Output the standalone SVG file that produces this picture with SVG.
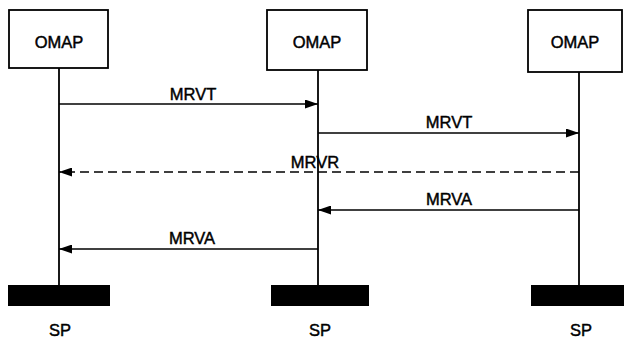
<svg xmlns="http://www.w3.org/2000/svg" width="624" height="341" viewBox="0 0 624 341">
<defs>
<style>
.box{fill:#fff;stroke:#000;stroke-width:1.8}
.life{stroke:#000;stroke-width:1.8;fill:none}
.msg{stroke:#000;stroke-width:1.5;fill:none}
.dash{stroke-dasharray:9 5}
.bar{fill:#000}
text{font-family:"Liberation Sans",Arial,sans-serif;font-size:16.5px;fill:#000;stroke:#000;stroke-width:0.45;text-anchor:middle}
</style>
<marker id="ah" viewBox="0 0 13 9" refX="13" refY="4.5" markerWidth="13" markerHeight="9" markerUnits="userSpaceOnUse" orient="auto">
<path d="M0,0 L13,4.5 L0,9 Z" fill="#000"/>
</marker>
</defs>
<g id="node-omap1">
<rect class="box" x="9" y="10" width="99" height="58"/>
<text x="59" y="48">OMAP</text>
</g>
<g id="node-omap2">
<rect class="box" x="267" y="10" width="100" height="60"/>
<text x="317" y="48">OMAP</text>
</g>
<g id="node-omap3">
<rect class="box" x="528" y="10" width="94" height="62"/>
<text x="575" y="48">OMAP</text>
</g>
<g id="node-sp1">
<rect class="bar" x="8" y="285" width="102" height="21"/>
<text x="60" y="336">SP</text>
</g>
<g id="node-sp2">
<rect class="bar" x="271" y="285" width="98" height="21"/>
<text x="320" y="336">SP</text>
</g>
<g id="node-sp3">
<rect class="bar" x="531" y="285" width="93" height="21"/>
<text x="581" y="336">SP</text>
</g>
<g id="connectors">
<line class="life" x1="59" y1="68" x2="59" y2="286"/>
<line class="life" x1="318" y1="70" x2="318" y2="286"/>
<line class="life" x1="579" y1="72" x2="579" y2="286"/>
<line class="msg" x1="59" y1="104" x2="318" y2="104" marker-end="url(#ah)"/>
<text x="193" y="100">MRVT</text>
<line class="msg" x1="318" y1="133" x2="579" y2="133" marker-end="url(#ah)"/>
<text x="449" y="128">MRVT</text>
<line class="msg dash" x1="579" y1="172" x2="59" y2="172" marker-end="url(#ah)"/>
<text x="315" y="168">MRVR</text>
<line class="msg" x1="579" y1="210" x2="318" y2="210" marker-end="url(#ah)"/>
<text x="449" y="205">MRVA</text>
<line class="msg" x1="318" y1="249" x2="59" y2="249" marker-end="url(#ah)"/>
<text x="192" y="244">MRVA</text>
</g>
</svg>
